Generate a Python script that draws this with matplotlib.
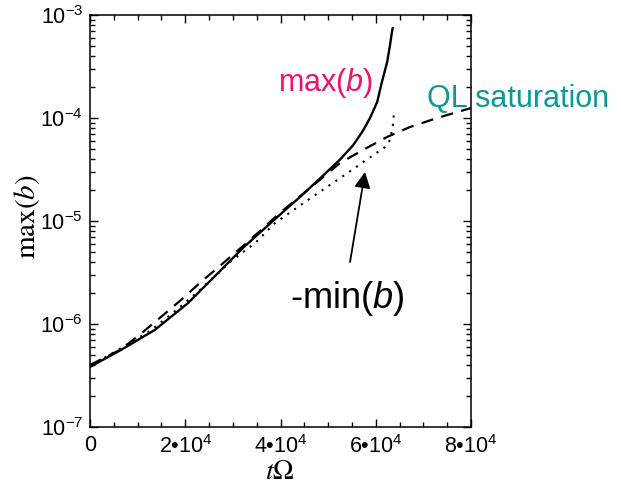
import numpy as np
import matplotlib
matplotlib.use("Agg")
import matplotlib.pyplot as plt
from matplotlib.ticker import FixedLocator, FuncFormatter, NullFormatter

# growth of max(b), -min(b) and the QL saturation curve vs t*Omega

plt.rcParams["font.family"] = ["Liberation Sans", "DejaVu Sans"]
plt.rcParams["mathtext.fontset"] = "custom"
plt.rcParams["mathtext.rm"] = "Liberation Sans"
plt.rcParams["mathtext.it"] = "Liberation Sans:italic"
plt.rcParams["mathtext.bf"] = "Liberation Sans:bold"

# max(b), solid
t_max = [0, 6500, 13600, 20600, 27500, 32100, 36300, 40500, 44100,
         48900, 52500, 55200, 57300, 58800, 60300, 61300, 62400, 63000,
         63400, 63600]
b_max = [3.83e-7, 5.6e-7, 8.75e-7, 1.6e-6, 3.34e-6, 5.47e-6, 8.18e-6,
         1.22e-5, 1.71e-5, 2.75e-5, 3.95e-5, 5.4e-5, 7.5e-5, 1.0e-4,
         1.43e-4, 2.24e-4, 3.5e-4, 5.12e-4, 6.84e-4, 7.64e-4]

# QL saturation, dashed
t_ql = [0, 6300, 10100, 14900, 19100, 23300, 27500, 33600, 39900,
        46200, 52500, 57300, 62400, 67200, 72900, 80000]
b_ql = [4.0e-7, 5.6e-7, 7.64e-7, 1.17e-6, 1.71e-6, 2.56e-6, 3.74e-6,
        6.55e-6, 1.2e-5, 2.09e-5, 3.66e-5, 4.89e-5, 6.55e-5, 8.18e-5,
        1.0e-4, 1.25e-4]

# -min(b), dotted
t_min = [0, 6300, 12600, 18000, 23100, 29400, 34650, 38850, 44700,
         50400, 55000, 58400, 61950, 63000, 63600, 63800]
b_min = [3.91e-7, 5.75e-7, 8.55e-7, 1.35e-6, 2.14e-6, 4.0e-6, 6.1e-6,
         9.57e-6, 1.48e-5, 2.24e-5, 3.13e-5, 4.03e-5, 5.22e-5, 6.1e-5,
         8.55e-5, 1.09e-4]

x_ticks = [0, 20000, 40000, 60000, 80000]
x_ticklabels = ["0", "2\u202210$^{4}$", "4\u202210$^{4}$", "6\u202210$^{4}$", "8\u202210$^{4}$"]
y_ticks = [1e-7, 1e-6, 1e-5, 1e-4, 1e-3]

magenta = "#F2106A"
teal = "#0A9A96"

fig = plt.figure(figsize=(6.21, 4.84), dpi=100)
ax = fig.add_axes([90 / 621, 1 - 427 / 484, 381 / 621, 412 / 484])

ax.semilogy(t_max, b_max, color="black", lw=1.7, solid_capstyle="butt", solid_joinstyle="round")
ax.semilogy(t_ql, b_ql, color="black", lw=1.6, linestyle=(0, (5.5, 3.8)))
ax.semilogy(t_min, b_min, color="black", lw=1.5, linestyle=(0, (1, 3)))

ax.set_xlim(0, 80000)
ax.set_ylim(1e-7, 1e-3)

ax.xaxis.set_major_locator(FixedLocator(x_ticks))
ax.set_xticklabels(x_ticklabels)
ax.xaxis.set_minor_locator(FixedLocator(np.arange(0, 80001, 5000)))
ax.yaxis.set_major_locator(FixedLocator(y_ticks))
ax.yaxis.set_major_formatter(FuncFormatter(lambda v, p: "10$^{%d}$" % round(np.log10(v))))
minor_y = [m * 10.0 ** e for e in range(-7, -3) for m in range(2, 10)]
ax.yaxis.set_minor_locator(FixedLocator(minor_y))
ax.yaxis.set_minor_formatter(NullFormatter())

ax.tick_params(which="both", direction="in", top=True, right=True, width=1.0, colors="black")
ax.tick_params(which="major", length=6, labelsize=15.5)
ax.tick_params(which="minor", length=3.5)
ax.tick_params(axis="x", which="major", pad=6)
ax.tick_params(axis="y", which="major", pad=5)
for s in ax.spines.values():
    s.set_linewidth(1.1)

fig.text(27 / 621, 1 - 217 / 484, r"$\mathrm{max}(b)$", rotation=90, ha="center", va="center",
         fontsize=21, math_fontfamily="stix")
fig.text(280 / 621, 1 - 472 / 484, r"$t\Omega$", ha="center", va="center",
         fontsize=20, math_fontfamily="stix")

ax.text(39500, 1.83e-4, "max($b$)", color=magenta, fontsize=22, ha="left", va="baseline")
ax.text(70800, 1.28e-4, "QL saturation", color=teal, fontsize=22, ha="left", va="baseline",
        clip_on=False)
ax.text(42000, 1.43e-6, "-min($b$)", color="black", fontsize=26, ha="left", va="baseline")

ax.annotate("", xy=(57750, 3.0e-5), xytext=(54600, 4.0e-6),
            arrowprops=dict(arrowstyle="-|>", color="black", lw=1.3, mutation_scale=24,
                            shrinkA=0, shrinkB=0))

fig.savefig("out.png", dpi=100)
